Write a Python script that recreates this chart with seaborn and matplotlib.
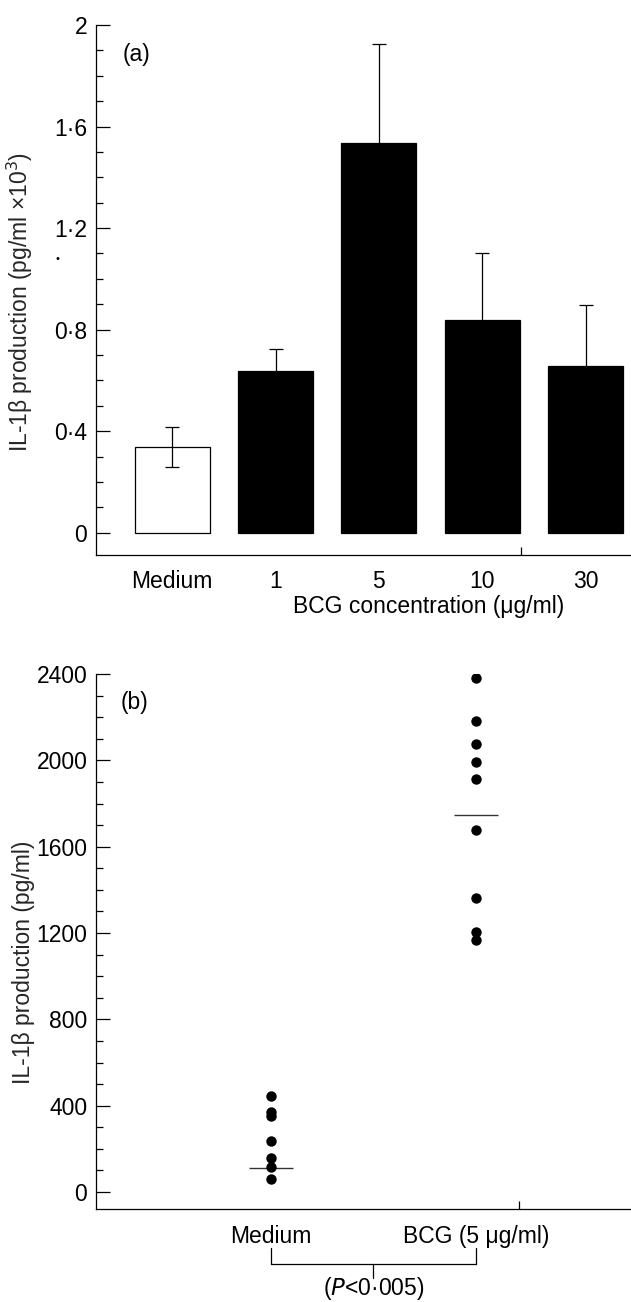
import pandas as pd
import matplotlib
matplotlib.use("Agg")
import matplotlib.pyplot as plt
import matplotlib.transforms as mtransforms
import seaborn as sns

# (a) dose response, mean +/- error (pg/ml x 10^3)
conc_labels = ["Medium", "1", "5", "10", "30"]
il1b_mean = [0.338, 0.635, 1.537, 0.836, 0.656]
il1b_err = [0.078, 0.089, 0.388, 0.266, 0.241]
bar_colors = ["white", "black", "black", "black", "black"]

# (b) individual donors (pg/ml)
medium_vals = [447, 369, 350, 237, 156, 116, 62]
bcg_vals = [2380, 2182, 2076, 1994, 1912, 1679, 1361, 1205, 1168]
group_names = ["Medium", "BCG (5 \u03bcg/ml)"]
group_lines = [111, 1749]

FS = 16.5

sns.set_theme(style="white")
plt.rcParams["font.family"] = ["Liberation Sans", "DejaVu Sans"]
plt.rcParams.update({
    "font.size": FS,
    "axes.linewidth": 0.9,
    "axes.edgecolor": "black",
    "text.color": "black",
    "xtick.color": "black",
    "ytick.color": "black",
})

W, H = 631, 1302
fig = plt.figure(figsize=(W / 100, H / 100), dpi=100)

def px_axes(left, top, right, bottom):
    return fig.add_axes([left / W, 1 - bottom / H, (right - left) / W, (bottom - top) / H])

def style_axes(ax, minor_step):
    for s in ["top", "right"]:
        ax.spines[s].set_visible(False)
    ax.yaxis.set_minor_locator(matplotlib.ticker.MultipleLocator(minor_step))
    ax.tick_params(axis="y", which="major", left=True, direction="in", length=10, width=0.9, pad=6, labelsize=FS)
    ax.tick_params(axis="y", which="minor", left=True, direction="in", length=5, width=0.9)
    ax.tick_params(axis="x", which="major", bottom=True, length=0, labelsize=FS)
    ax.tick_params(axis="x", which="minor", bottom=True, direction="in", length=5.5, width=0.9)


# Panel (a)
ax1 = px_axes(95.7, 25, 631, 555)
df_a = pd.DataFrame({"conc": conc_labels, "il1b": il1b_mean})
sns.barplot(data=df_a, x="conc", y="il1b", hue="conc", palette=bar_colors,
            edgecolor="black", linewidth=0.9, width=0.725, legend=False, ax=ax1)
ax1.errorbar(range(len(conc_labels)), il1b_mean, yerr=il1b_err, fmt="none",
             ecolor="black", elinewidth=0.9, capsize=4.7, capthick=0.9)
ax1.set_ylim(-0.088, 2.0)
ax1.set_xlim(-0.74, 4.44)
ax1.set_yticks([0, 0.4, 0.8, 1.2, 1.6, 2.0])
ax1.set_yticklabels(["0", "0\u00b74", "0\u00b78", "1\u00b72", "1\u00b76", "2"])
style_axes(ax1, 0.1)
ax1.set_xticks([3.375, 4.0], minor=True)
ax1.tick_params(axis="x", which="major", pad=11)
ax1.set_xlabel("")
ax1.set_ylabel("IL-1\u03b2 production (pg/ml \u00d710$^3$)", fontsize=FS)
ax1.yaxis.set_label_coords(-0.113, 0.477)
ax1.text(137 / W, 1 - 55 / H, "(a)", transform=fig.transFigure, ha="center", va="center", fontsize=FS)
fig.text(429 / W, 1 - 606 / H, "BCG concentration (\u03bcg/ml)", ha="center", va="center", fontsize=FS)
fig.text(57 / W, 1 - 259 / H, "\u2022", ha="center", va="center", fontsize=8)

# Panel (b)
ax2 = px_axes(95.7, 674, 631, 1209.3)
df_b = pd.DataFrame({
    "group": [group_names[0]] * len(medium_vals) + [group_names[1]] * len(bcg_vals),
    "il1b": medium_vals + bcg_vals,
})
sns.stripplot(data=df_b, x="group", y="il1b", order=group_names, jitter=False,
              color="black", size=7.5, linewidth=0, ax=ax2)
for i, v in enumerate(group_lines):
    ax2.hlines(v, i - 0.107, i + 0.107, color="#333333", linewidth=1.0)
ax2.set_ylim(-80, 2400)
ax2.set_xlim(-0.855, 1.756)
ax2.set_yticks(range(0, 2401, 400))
style_axes(ax2, 100)
ax2.set_xticks([1.21], minor=True)
ax2.tick_params(axis="x", which="major", pad=11)
ax2.set_xlabel("")
ax2.set_ylabel("IL-1\u03b2 production (pg/ml)", fontsize=FS)
ax2.yaxis.set_label_coords(-0.113, 0.462)
ax2.text(135 / W, 1 - 703 / H, "(b)", transform=fig.transFigure, ha="center", va="center", fontsize=FS)

# significance bracket under the group labels
tr = mtransforms.blended_transform_factory(ax2.transData, fig.transFigure)
y_top, y_bar, y_tick = 1 - 1248 / H, 1 - 1264.3 / H, 1 - 1278 / H
ax2.plot([0, 0, 1, 1], [y_top, y_bar, y_bar, y_top], color="black", lw=0.9, transform=tr, clip_on=False)
ax2.plot([0.5, 0.5], [y_bar, y_tick], color="black", lw=0.9, transform=tr, clip_on=False)
ax2.text(0.5, 1 - 1289 / H, "($P$<0\u00b7005)", transform=tr, ha="center", va="center", fontsize=FS)

fig.savefig("out.png", dpi=100)
